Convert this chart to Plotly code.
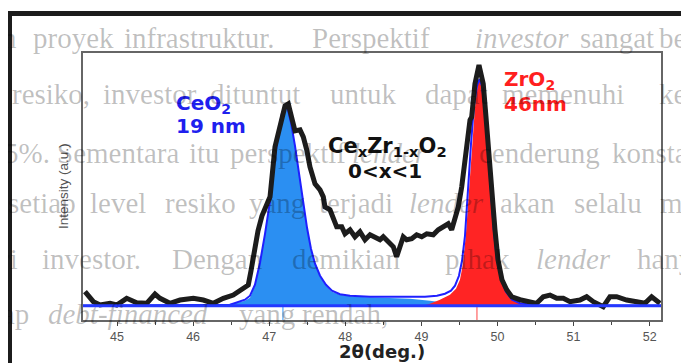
import plotly.graph_objects as go

# ---------------- data ----------------
# measured XRD pattern (2theta in deg, intensity in a.u. above baseline)
meas_x = [44.579, 44.689, 44.777, 44.908, 44.996, 45.127, 45.259, 45.390, 45.499, 45.565,
          45.696, 45.828, 46.003, 46.134, 46.265, 46.397, 46.528, 46.639, 46.725, 46.761,
          46.800, 46.853, 46.905, 46.958, 47.011, 47.076, 47.120, 47.164, 47.208, 47.251,
          47.296, 47.339, 47.405, 47.448, 47.493, 47.536, 47.602, 47.668, 47.711, 47.733,
          47.799, 47.843, 47.887, 47.953, 47.996, 48.062, 48.127, 48.193, 48.259, 48.325,
          48.390, 48.456, 48.499, 48.565, 48.631, 48.675, 48.719, 48.762, 48.807, 48.873,
          48.938, 49.004, 49.070, 49.156, 49.222, 49.288, 49.353, 49.398, 49.442, 49.485,
          49.530, 49.573, 49.616, 49.639, 49.661, 49.704, 49.757, 49.813, 49.849, 49.879,
          49.911, 49.937, 49.967, 50.007, 50.059, 50.121, 50.187, 50.296, 50.427, 50.515,
          50.602, 50.690, 50.778, 50.865, 50.953, 51.084, 51.172, 51.259, 51.390, 51.478,
          51.566, 51.698, 51.829, 51.938, 52.026, 52.092, 52.135]
meas_y = [14.0, 4.0, 0.7, 2.4, 0.7, 7.4, 3.0, 2.4, 11.7, 7.4,
          2.4, 5.7, 7.4, 5.7, 2.4, 7.4, 10.7, 15.7, 20.7, 35,
          55, 75, 90, 100, 109, 159, 172, 185, 200, 202,
          189, 175, 176, 169, 156, 139, 122, 116, 109, 99,
          96, 86, 79, 79, 72, 76, 69, 74, 66, 71,
          69, 66, 69, 64, 59, 49, 59, 69, 66, 67,
          71, 69, 72, 71, 76, 79, 82, 76, 86, 99,
          119, 146, 169, 186, 189, 222, 241, 222, 189, 156,
          122, 106, 76, 46, 26, 16, 9, 6, 4, 2.4,
          9, 10.7, 7.4, 7.4, 4, 5.7, 9, 4, -1, 9,
          9, 5.7, 4, 2.4, 9, 5.7, 2.4]

# CeO2 fitted component (blue fill)
ceo2_x = [44.553, 46.134, 46.528, 46.682, 46.748, 46.813, 46.879, 46.945, 47.011, 47.063,
          47.116, 47.168, 47.208, 47.247, 47.287, 47.339, 47.392, 47.444, 47.497, 47.549,
          47.602, 47.668, 47.746, 47.825, 47.930, 48.127, 48.456, 48.850, 49.113, 49.310,
          49.507, 49.770, 50.296, 52.149]
ceo2_y = [0, 0.5, 2, 5, 8, 20, 42, 72, 105, 140,
          172, 193, 200, 196, 183, 160, 132, 105, 78, 57,
          42, 29, 20, 14, 11, 9, 8, 7, 5, 3,
          2, 1, 0.3, 0]

# ZrO2 fitted component (red fill)
zro2_x = [49.021, 49.113, 49.244, 49.376, 49.455, 49.507, 49.547, 49.586, 49.626, 49.665,
          49.704, 49.737, 49.763, 49.796, 49.836, 49.875, 49.915, 49.954, 49.993, 50.046,
          50.112, 50.191, 50.296, 50.427, 50.558]
zro2_y = [0, 2, 6, 11, 17, 26, 42, 72, 115, 160,
          198, 220, 226, 218, 192, 152, 110, 72, 45, 27,
          14, 7, 3, 1, 0]

# total fit envelope (blue line)
fit_x = [44.553, 46.485, 46.682, 46.748, 46.813, 46.879, 46.945, 47.011, 47.063, 47.116,
         47.168, 47.208, 47.247, 47.287, 47.339, 47.392, 47.444, 47.497, 47.549, 47.602,
         47.668, 47.746, 47.825, 47.930, 48.062, 48.325, 48.719, 49.047, 49.205, 49.310,
         49.389, 49.442, 49.494, 49.534, 49.573, 49.612, 49.652, 49.691, 49.731, 49.763,
         49.796, 49.836, 49.875, 49.915, 49.954, 49.993, 50.046, 50.112, 50.191, 50.296,
         50.493, 52.149]
fit_y = [0, 1, 6, 10, 21, 43, 72, 105, 140, 172,
         193, 200, 196, 183, 160, 132, 105, 78, 57, 42,
         30, 21, 15, 11.5, 10, 9, 9, 9, 10, 12,
         15, 20, 30, 45, 70, 120, 162, 200, 220, 227,
         220, 195, 155, 112, 74, 46, 27, 14, 6, 2.5,
         0.5, 0]

# reference line positions
ref_pos = [47.18, 49.73]
ref_colors = ["#7cbcff", "#ff8a8a"]

phase_names = ["CeO<sub>2</sub>", "ZrO<sub>2</sub>"]
phase_sizes = ["19 nm", "46nm"]
phase_colors = ["#1f1fee", "#ff1f1f"]
mix_label = "Ce<sub>x</sub>Zr<sub>1-x</sub>O<sub>2</sub>"
mix_range = "0<x<1"

x_ticks = [45, 46, 47, 48, 49, 50, 51, 52]
x_range = [44.553, 52.149]
y_range = [-14.3, 253]

# background document text (word, left px, italic)
doc_lines = [
    (47.5, [("n", 0), ("proyek", 31), ("infrastruktur.", 122), ("Perspektif", 310),
            ("investor", 473, True), ("sangat", 578), ("be", 657)]),
    (104, [("resiko,", 10), ("investor", 101), ("dituntut", 208), ("untuk", 328),
           ("dapat", 423), ("memenuhi", 500), ("keb", 657)]),
    (162.5, [("5%.", 2), ("Sementara", 55), ("itu", 187), ("perspektif", 228),
             ("lender", 350, True), ("cenderung", 477), ("konsta", 610)]),
    (212.5, [("setiap", 6), ("level", 88), ("resiko", 163), ("yang", 247), ("terjadi", 317),
             ("lender", 407, True), ("akan", 498), ("selalu", 572), ("me", 658)]),
    (269, [("ri", -2), ("investor.", 40), ("Dengan", 170), ("demikian", 290),
           ("pihak", 443), ("lender", 534, True), ("hanya", 635)]),
    (323.5, [("ap", 0), ("debt-financed", 46, True), ("yang", 237), ("rendah,", 300)]),
]

# ---------------- figure ----------------
# The page body adds an 8 px offset, so margins are reduced by 8 at left/top.
W, H = 689, 363
OFF = 8
ML, MR, MT, MB = 83 - OFF, 28 + OFF, 53 - OFF, 43 + OFF
PW, PH = W - ML - MR, H - MT - MB
PLOT_L, PLOT_B = ML + OFF, H - MB + OFF   # plot left / bottom in page pixels


def px(xp):
    return (xp - PLOT_L) / PW


def py(yp):
    return (PLOT_B - yp) / PH


fig = go.Figure()

fig.add_trace(go.Scatter(x=ceo2_x, y=ceo2_y, mode="lines", fill="tozeroy",
                         fillcolor="#2b8ff2", line=dict(width=0, color="#2b8ff2"),
                         hoverinfo="skip", showlegend=False))
fig.add_trace(go.Scatter(x=zro2_x, y=zro2_y, mode="lines", fill="tozeroy",
                         fillcolor="#ff2424", line=dict(width=0, color="#ff2424"),
                         hoverinfo="skip", showlegend=False))
for p, c in zip(ref_pos, ref_colors):
    fig.add_trace(go.Scatter(x=[p, p], y=[0, y_range[0]], mode="lines",
                             line=dict(color=c, width=1.6), hoverinfo="skip",
                             showlegend=False))
fig.add_shape(type="line", xref="paper", yref="y", x0=0, x1=1, y0=0, y1=0,
              line=dict(color="#2438ff", width=3), layer="above")
fig.add_trace(go.Scatter(x=fit_x, y=fit_y, mode="lines",
                         line=dict(color="#1f1fff", width=2), hoverinfo="skip",
                         showlegend=False))
fig.add_trace(go.Scatter(x=meas_x, y=meas_y, mode="lines",
                         line=dict(color="#1c1c1c", width=5),
                         hoverinfo="skip", showlegend=False))

ann = []


def label(text, xl, yc, size, color, anchor="left", bold=True, angle=0, family="DejaVu Sans"):
    ann.append(dict(text=text, x=px(xl), y=py(yc), xref="paper", yref="paper",
                    xanchor=anchor, yanchor="middle", showarrow=False, textangle=angle,
                    font=dict(family=family, size=size, color=color,
                              weight="bold" if bold else "normal")))


label(phase_names[0], 174, 103.5, 20, phase_colors[0])
label(phase_sizes[0], 174, 125.5, 20, phase_colors[0])
label(phase_names[1], 502, 79.5, 20, phase_colors[1])
label(phase_sizes[1], 502, 104, 20, phase_colors[1])
label(mix_label, 387, 147, 21, "#111", anchor="center")
label(mix_range, 385, 171, 20, "#111", anchor="center")
label("2θ(deg.)", 381.5, 351, 18, "#222", anchor="center")
label("Intensity (a.u.)", 63.5, 186.5, 13.5, "#555", anchor="center", bold=False,
      angle=-90, family="Liberation Sans")

# document text overlay
DOC_SIZE = 29
for base, words in doc_lines:
    for w in words:
        word, xl = w[0], w[1]
        ital = len(w) > 2 and w[2]
        txt = f"<i>{word}</i>" if ital else word
        ann.append(dict(text=txt, x=px(xl), y=py(base - 0.3375 * DOC_SIZE), xref="paper",
                        yref="paper", xanchor="left", yanchor="middle", showarrow=False,
                        font=dict(family="Liberation Serif", size=DOC_SIZE,
                                  color="rgba(0,0,0,0.25)")))

fig.update_layout(annotations=ann)

# thick black frame of the pasted figure
fig.add_shape(type="rect", xref="paper", yref="paper", x0=px(7), x1=px(700), y0=py(16),
              y1=py(11), fillcolor="#1c1c1c", line=dict(width=0), layer="above")
fig.add_shape(type="rect", xref="paper", yref="paper", x0=px(7), x1=px(12), y0=py(375),
              y1=py(11), fillcolor="#1c1c1c", line=dict(width=0), layer="above")

fig.update_xaxes(range=x_range, tickvals=x_ticks, ticktext=[str(t) for t in x_ticks],
                 ticks="outside", ticklen=4, tickwidth=1, tickcolor="#444",
                 tickfont=dict(family="Liberation Sans", size=12.5, color="#555"),
                 showline=True, mirror=True, linecolor="#666", linewidth=1.5,
                 showgrid=False, zeroline=False,
                 minor=dict(dtick=0.5, tick0=44.5, ticks="outside", ticklen=3,
                            tickcolor="#444", showgrid=False))
fig.update_yaxes(range=y_range, showticklabels=False, ticks="", showline=True, mirror=True,
                 linecolor="#666", linewidth=1.5, showgrid=False, zeroline=False)

fig.update_layout(width=W, height=H, margin=dict(l=ML, r=MR, t=MT, b=MB),
                  paper_bgcolor="white", plot_bgcolor="white", showlegend=False)

fig.write_html("out.html")
